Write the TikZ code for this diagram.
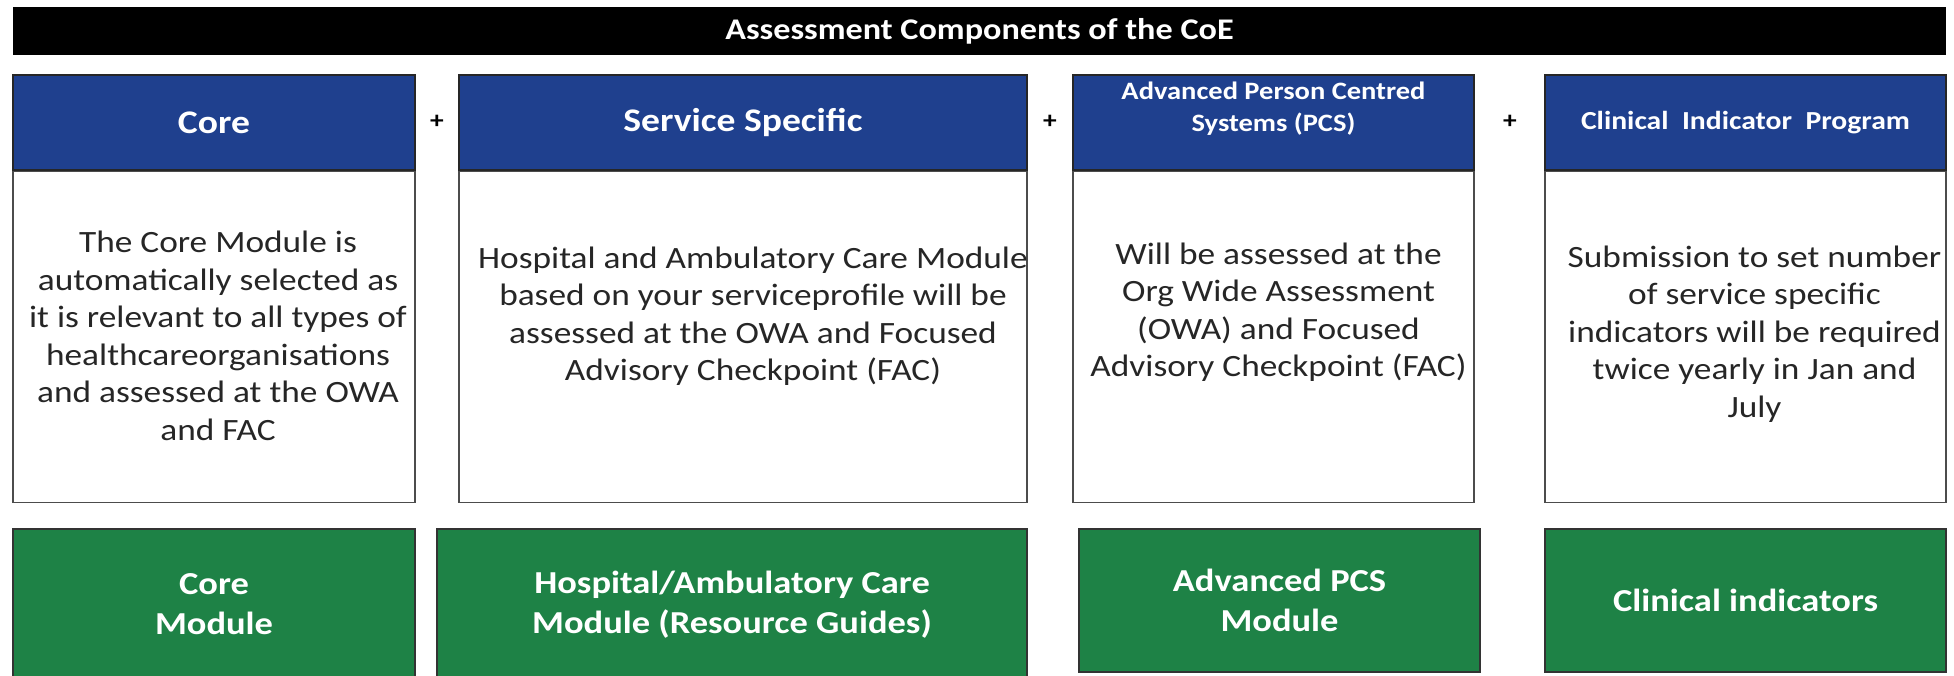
\documentclass[tikz,border=0pt]{standalone}
\usepackage{fontspec}
\setmainfont{Carlito}[FakeStretch=1.14]
\usepackage{xcolor}
\usepackage{tikz}
\usetikzlibrary{positioning}
\definecolor{hdblue}{RGB}{31,64,142}
\definecolor{modgreen}{RGB}{30,130,70}
\tikzstyle{header} = [rectangle, draw=black!85, line width=1.5pt, fill=hdblue, text=white, align=center, minimum height=95pt, inner sep=0pt]
\tikzstyle{module} = [rectangle, draw=black!80, line width=1.5pt, fill=modgreen, text=white, align=center, inner sep=0pt, font=\fontsize{32}{40}\selectfont\bfseries]

\begin{document}
\begin{tikzpicture}[
        x=1pt, y=-1pt,
        node distance=0pt,
        body/.style={draw=black!70, line width=1.5pt, fill=white, minimum height=331pt, inner sep=0pt},
        bodytext/.style={align=center, text=black!85, font=\fontsize{31}{37.5}\selectfont},
        plus/.style={font=\fontsize{24}{24}\selectfont\bfseries}
    ]
        \useasboundingbox[fill=white] (0,0) rectangle (1954,675);

        % Title bar
        \node (title) [fill=black, text=white, minimum width=1933pt, minimum height=48pt, font=\fontsize{30}{36}\selectfont\bfseries] at (979.5,31) {Assessment Components of the CoE};

        % Column headers
        \node (hdcore) [header, minimum width=402pt, font=\fontsize{33}{40}\selectfont\bfseries] at (214,122.5) {Core};
        \node (hdservice) [header, minimum width=568pt, font=\fontsize{33}{40}\selectfont\bfseries] at (743,122.5) {Service Specific};
        \node (hdpcs) [header, minimum width=401pt] at (1273.5,122.5) {};
        \node (hdpcslbl) [align=center, text=white, font=\fontsize{25}{32}\selectfont\bfseries] at ([yshift=14pt]hdpcs.center) {Advanced Person Centred\\Systems (PCS)};
        \node (hdclinical) [header, minimum width=401pt, font=\fontsize{26}{32}\selectfont\bfseries] at (1745.5,122.5) {Clinical\ \ Indicator\ \ Program};

        % Plus signs between the headers
        \node (plusa) [plus] at (437,122) {+};
        \node (plusb) [plus] at (1050,122) {+};
        \node (plusc) [plus] at (1510,122) {+};

        % Description boxes under each header
        \node (bdcore) [body, minimum width=402pt, below=of hdcore] {};
        \node (bdservice) [body, minimum width=568pt, below=of hdservice] {};
        \node (bdpcs) [body, minimum width=401pt, below=of hdpcs] {};
        \node (bdclinical) [body, minimum width=401pt, below=of hdclinical] {};

        \node (txcore) [bodytext, xshift=4pt, yshift=1pt] at (bdcore) {The Core Module is\\automatically selected as\\it is relevant to all types of\\healthcareorganisations\\and assessed at the OWA\\and FAC};
        \node (txservice) [bodytext, xshift=10pt, yshift=21pt] at (bdservice) {Hospital and Ambulatory Care Module\\based on your serviceprofile will be\\assessed at the OWA and Focused\\Advisory Checkpoint (FAC)};
        \node (txpcs) [bodytext, xshift=5pt, yshift=25pt] at (bdpcs) {Will be assessed at the\\Org Wide Assessment\\(OWA) and Focused\\Advisory Checkpoint (FAC)};
        \node (txclinical) [bodytext, xshift=9pt, yshift=3pt] at (bdclinical) {Submission to set number\\of service specific\\indicators will be required\\twice yearly in Jan and\\July};

        % Module boxes along the bottom
        \node (gmcore) [module, minimum width=402pt, minimum height=151pt] at (214,604.5) {Core\\Module};
        \node (gmservice) [module, minimum width=590pt, minimum height=151pt] at (732,604.5) {Hospital/Ambulatory Care\\Module (Resource Guides)};
        \node (gmpcs) [module, minimum width=401pt, minimum height=143pt] at (1279.5,600.5) {Advanced PCS\\Module};
        \node (gmclinical) [module, minimum width=401pt, minimum height=143pt] at (1745.5,600.5) {Clinical indicators};

    \end{tikzpicture}
\end{document}
